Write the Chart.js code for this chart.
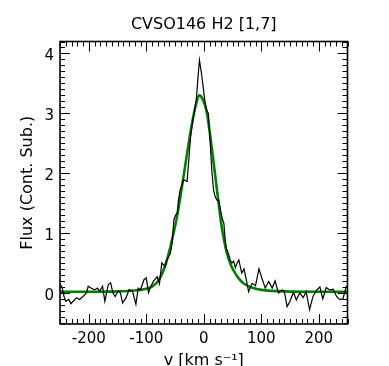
<!DOCTYPE html>
<html>
<head>
<meta charset="utf-8">
<script src="https://cdn.jsdelivr.net/npm/chart.js@4"></script>
<style>
  html, body { margin: 0; padding: 0; background: #fff; }
  #wrap { width: 389px; height: 366px; }
</style>
</head>
<body>
<div id="wrap"><canvas id="spec"></canvas></div>
<script>
// observed spectrum (continuum subtracted)
const velocity = [-250, -246, -243, -240, -235, -231, -227, -221, -216, -210, -204, -201, -196, -190, -185, -181, -176, -172, -166, -162, -158, -154, -149, -145, -141, -135, -130, -124, -118, -114, -110, -104, -100, -96, -92, -87, -81, -77, -73, -67, -64, -58, -55, -52, -49, -46, -44, -41, -35, -29, -26, -23, -19, -13, -10, -7.5, -4, -1, 2, 5, 8, 11, 14, 17, 20, 23, 26, 29, 32, 35, 37.5, 40, 43, 46, 49, 52, 55, 58, 61, 66, 70, 74, 78, 84, 90, 96, 102, 107, 113, 119, 124, 130, 136, 140, 145, 150, 156, 161, 167, 173, 178, 184, 190, 196, 202, 207, 213, 219, 225, 231, 236, 242, 248, 250]
const flux = [0.15, 0.08, -0.06, -0.14, -0.11, -0.18, -0.14, -0.08, -0.11, -0.06, 0.0, 0.11, 0.08, 0.05, 0.08, 0.03, 0.11, -0.14, 0.14, 0.17, 0.0, -0.06, 0.03, 0.0, -0.17, -0.08, 0.05, 0.03, -0.19, 0.08, 0.05, 0.22, 0.25, 0.0, 0.11, 0.2, 0.27, 0.15, 0.5, 0.44, 0.55, 0.66, 0.83, 1.22, 1.3, 1.33, 1.55, 1.72, 1.89, 1.86, 2.22, 2.6, 2.89, 3.22, 3.6, 3.89, 3.67, 3.44, 3.2, 3.05, 3.0, 2.55, 2.05, 1.72, 1.6, 1.55, 1.55, 1.39, 1.25, 1.16, 0.86, 0.72, 0.66, 0.55, 0.5, 0.53, 0.42, 0.5, 0.55, 0.33, 0.4, 0.22, 0.02, 0.16, 0.12, 0.4, 0.22, 0.08, 0.19, 0.08, 0.2, 0.0, 0.05, 0.03, -0.23, -0.14, 0.01, -0.12, 0.0, -0.08, 0.02, -0.28, -0.06, 0.04, 0.1, -0.1, 0.09, 0.05, 0.06, -0.06, -0.11, -0.1, 0.11, 0.1]

// line fit
const fitVelocity = [-250, -200, -150, -120, -100, -90, -80, -72, -65, -58, -52, -46, -38, -29, -20, -14, -8, -2, 5, 14, 23, 31, 40, 47, 52, 60, 69, 86, 100, 140, 200, 250]
const fitFlux = [0.02, 0.02, 0.025, 0.04, 0.07, 0.105, 0.19, 0.33, 0.52, 0.77, 1.02, 1.3, 1.77, 2.33, 2.85, 3.13, 3.3, 3.24, 3.03, 2.42, 1.72, 1.12, 0.67, 0.47, 0.37, 0.25, 0.16, 0.08, 0.05, 0.025, 0.02, 0.02]

// labelled ticks
const xTicks = [-200, -100, 0, 100, 200]
const yTicks = [0, 1, 2, 3, 4]

const xMin = -250, xMax = 250
const yMin = -0.52, yMax = 4.2

const FONT = 'DejaVu Sans'

// IDL-style frame with inward ticks on all four sides
const frameTicks = {
  id: 'frameTicks',
  afterDatasetsDraw(chart) {
    const {ctx, chartArea: a, scales: {x, y}} = chart
    ctx.save()
    ctx.strokeStyle = '#000'
    ctx.lineWidth = 1
    ctx.beginPath()
    for (let v = xMin; v <= xMax; v += 10) {
      const px = Math.round(x.getPixelForValue(v)) + 0.5
      const len = v % 100 === 0 ? 10 : 5
      ctx.moveTo(px, a.bottom); ctx.lineTo(px, a.bottom - len)
      ctx.moveTo(px, a.top); ctx.lineTo(px, a.top + len)
    }
    for (let i = Math.ceil(yMin * 10); i <= Math.floor(yMax * 10); i++) {
      const py = Math.round(y.getPixelForValue(i / 10)) + 0.5
      const len = i % 10 === 0 ? 10 : 5
      ctx.moveTo(a.left, py); ctx.lineTo(a.left + len, py)
      ctx.moveTo(a.right, py); ctx.lineTo(a.right - len, py)
    }
    ctx.stroke()
    ctx.lineWidth = 1.6
    ctx.strokeRect(a.left, a.top, a.right - a.left, a.bottom - a.top)
    ctx.restore()
  }
}

new Chart(document.getElementById('spec'), {
  type: 'line',
  data: {
    datasets: [{
      data: velocity.map((v, i) => ({x: v, y: flux[i]})),
      borderColor: '#000',
      borderWidth: 1.2,
      pointRadius: 0,
      tension: 0
    }, {
      data: fitVelocity.map((v, i) => ({x: v, y: fitFlux[i]})),
      borderColor: 'rgb(0, 128, 0)',
      borderWidth: 2.6,
      pointRadius: 0,
      cubicInterpolationMode: 'monotone'
    }]
  },
  options: {
    responsive: true,
    maintainAspectRatio: false,
    animation: false,
    layout: { padding: {left: 0, right: 41.5, top: 0, bottom: 0} },
    plugins: {
      legend: { display: false },
      tooltip: { enabled: false },
      title: {
        display: true,
        fullSize: false,
        text: 'CVSO146 H2 [1,7]',
        color: '#000',
        font: { family: FONT, size: 16, weight: 'normal', lineHeight: 1.2 },
        padding: { top: 15.6, bottom: 6.7 }
      }
    },
    scales: {
      x: {
        type: 'linear',
        min: xMin,
        max: xMax,
        grid: { display: false, drawTicks: false },
        border: { display: false },
        afterBuildTicks(scale) { scale.ticks = xTicks.map(v => ({value: v})) },
        ticks: {
          maxRotation: 0,
          autoSkip: false,
          padding: 6,
          color: '#000',
          font: { family: FONT, size: 15 }
        },
        title: {
          display: true,
          text: 'v [km s⁻¹]',
          color: '#000',
          font: { family: FONT, size: 16 },
          padding: { top: 0, bottom: -4.6 }
        },
        afterFit(scale) { scale.height = 42 }
      },
      y: {
        min: yMin,
        max: yMax,
        grid: { display: false, drawTicks: false },
        border: { display: false },
        afterBuildTicks(scale) { scale.ticks = yTicks.map(v => ({value: v})) },
        ticks: {
          padding: 6,
          labelOffset: 3,
          color: '#000',
          font: { family: FONT, size: 15 }
        },
        title: {
          display: true,
          text: 'Flux (Cont. Sub.)',
          color: '#000',
          font: { family: FONT, size: 16 },
          padding: { top: 18.4, bottom: 0 }
        },
        afterFit(scale) { scale.width = 60 }
      }
    }
  },
  plugins: [frameTicks]
})
</script>
</body>
</html>
